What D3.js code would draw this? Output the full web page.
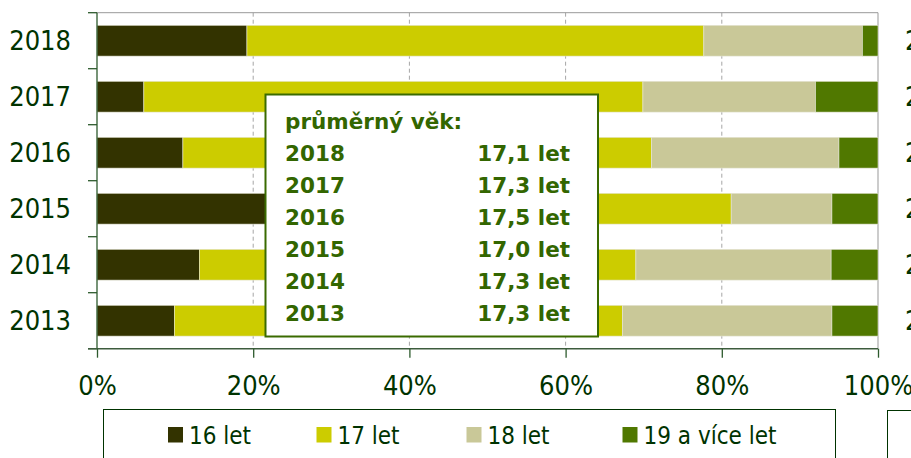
<!DOCTYPE html>
<html>
<head>
<meta charset="utf-8">
<script src="https://cdn.jsdelivr.net/npm/d3@7"></script>
<style>
  body { margin: 0; background: #fff; }
  svg { display: block; }
  .lbl { font-family: "DejaVu Sans Condensed", "DejaVu Sans", sans-serif; font-stretch: condensed; fill: #003300; }
  .note { font-family: "DejaVu Sans", sans-serif; font-weight: bold; fill: #336600; font-size: 21.5px; }
</style>
</head>
<body>
<div id="chart"></div>
<script>
// shares (%) per year
const years = ["2018", "2017", "2016", "2015", "2014", "2013"];
const groups = ["16 let", "17 let", "18 let", "19 a více let"];
const colors = ["#333300", "#cccc00", "#c9c898", "#507800"];
const age16 = [19.2, 6.0, 11.0, 28.0, 13.1, 9.9];
const age17 = [58.5, 63.9, 60.0, 53.2, 55.9, 57.4];
const age18 = [20.3, 22.1, 24.0, 12.9, 25.0, 26.8];
const age19 = [2.0, 8.0, 5.0, 5.9, 6.0, 5.9];
const meanAge = ["17,1 let", "17,3 let", "17,5 let", "17,0 let", "17,3 let", "17,3 let"];
const xTicks = [0, 0.2, 0.4, 0.6, 0.8, 1];

const width = 911, height = 458,
    margin = ({ top: 12.7, right: 33, bottom: 109.3, left: 97 });

const svg = d3.select("#chart")
    .append("svg")
    .attr("width", width)
    .attr("height", height);

let x = d3.scaleLinear()
    .domain([0, 1])
    .range([margin.left, width - margin.right]);

let y = d3.scaleBand()
    .domain(years)
    .range([margin.top, height - margin.bottom])
    .paddingInner(0.45)
    .paddingOuter(0.225);

// stack the four series
let rows = years.map((yr, i) => ({ year: yr, "16 let": age16[i], "17 let": age17[i], "18 let": age18[i], "19 a více let": age19[i] }));
let stacked = d3.stack().keys(groups)(rows);

// gridlines
svg.append("g")
    .selectAll("line")
    .data(xTicks.slice(1, -1))
    .join("line")
    .attr("x1", d => x(d)).attr("x2", d => x(d))
    .attr("y1", margin.top).attr("y2", height - margin.bottom)
    .attr("stroke", "#a6a6a6")
    .attr("stroke-dasharray", "4,3");

// plot border top + right
svg.append("path")
    .attr("d", `M${x(0)},${margin.top}H${x(1)}V${height - margin.bottom}`)
    .attr("fill", "none")
    .attr("stroke", "#999");

// bars
svg.append("g")
    .selectAll("g")
    .data(stacked)
    .join("g")
    .attr("fill", (d, i) => colors[i])
    .selectAll("rect")
    .data(d => d)
    .join("rect")
    .attr("x", d => x(d[0] / 100))
    .attr("width", d => x(d[1] / 100) - x(d[0] / 100))
    .attr("y", d => y(d.data.year))
    .attr("height", y.bandwidth())
    .attr("stroke", "#e6e6d6")
    .attr("stroke-width", 0.6);

// left axis (ticks between categories)
let gap = (y.step() - y.bandwidth()) / 2;
let bounds = years.map(d => y(d) - gap).concat([height - margin.bottom]);
let yAxis = svg.append("g");
yAxis.append("line")
    .attr("x1", x(0)).attr("x2", x(0))
    .attr("y1", margin.top).attr("y2", height - margin.bottom)
    .attr("stroke", "#2d5a2d").attr("stroke-width", 1.3);
yAxis.selectAll(".tk")
    .data(bounds)
    .join("line")
    .attr("x1", x(0) - 9).attr("x2", x(0))
    .attr("y1", d => d).attr("y2", d => d)
    .attr("stroke", "#2d5a2d").attr("stroke-width", 1.3);
yAxis.selectAll("text")
    .data(years)
    .join("text")
    .attr("class", "lbl")
    .attr("x", 71)
    .attr("y", d => y(d) + y.bandwidth() / 2 + 9.5)
    .attr("text-anchor", "end")
    .attr("font-size", 27)
    .text(d => d);

// bottom axis
let xAxis = svg.append("g")
    .attr("transform", `translate(0,${height - margin.bottom})`)
    .call(d3.axisBottom(x)
        .tickValues(xTicks)
        .tickFormat(d3.format(".0%"))
        .tickSize(9)
        .tickSizeOuter(0));
xAxis.select(".domain")
    .attr("d", `M${x(0) - 9},0H${x(1)}`)
    .attr("stroke", "#3d5c3d").attr("stroke-width", 1.5);
xAxis.selectAll(".tick line").attr("stroke", "#2d5a2d").attr("stroke-width", 1.3);
xAxis.selectAll(".tick text")
    .attr("class", "lbl")
    .attr("y", 46.7)
    .attr("dy", null)
    .attr("font-size", 27)
    .attr("font-family", null);

// average age note
let note = svg.append("g");
note.append("rect")
    .attr("x", 265.5).attr("y", 94.5)
    .attr("width", 332.5).attr("height", 242)
    .attr("fill", "#fff")
    .attr("stroke", "#3a6b00").attr("stroke-width", 2);
note.append("text")
    .attr("class", "note")
    .attr("x", 285).attr("y", 129)
    .text("průměrný věk:");
note.selectAll(".yr")
    .data(years)
    .join("text")
    .attr("class", "note")
    .attr("x", 285)
    .attr("y", (d, i) => 160.5 + i * 32)
    .text(d => d);
note.selectAll(".val")
    .data(meanAge)
    .join("text")
    .attr("class", "note")
    .attr("x", 570)
    .attr("y", (d, i) => 160.5 + i * 32)
    .attr("text-anchor", "end")
    .text(d => d);

// legend
let legend = svg.append("g");
legend.append("rect")
    .attr("x", 103.5).attr("y", 409.5)
    .attr("width", 732).attr("height", 60)
    .attr("fill", "none").attr("stroke", "#003300");
const legendX = [168, 316.5, 466.5, 622.5];
let items = legend.selectAll(".item")
    .data(groups)
    .join("g")
    .attr("transform", (d, i) => `translate(${legendX[i]},427)`);
items.append("rect")
    .attr("width", 15).attr("height", 15.5)
    .attr("fill", (d, i) => colors[i]);
items.append("text")
    .attr("class", "lbl")
    .attr("x", 21).attr("y", 16.5)
    .attr("font-size", 24)
    .text(d => d);

// neighbouring chart, cut off at the right edge
svg.append("rect")
    .attr("x", 887.5).attr("y", 410.5)
    .attr("width", 60).attr("height", 60)
    .attr("fill", "none").attr("stroke", "#003300");
svg.append("g")
    .selectAll("text")
    .data(years)
    .join("text")
    .attr("class", "lbl")
    .attr("x", 905)
    .attr("y", d => y(d) + y.bandwidth() / 2 + 9.5)
    .attr("font-size", 27)
    .text(d => d);
</script>
</body>
</html>
